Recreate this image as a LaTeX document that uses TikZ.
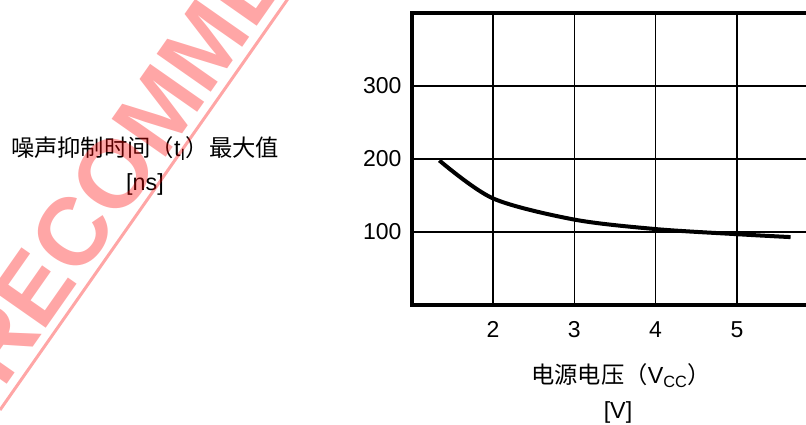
\documentclass[tikz,border=0pt]{standalone}
\usepackage{fontspec}
\setmainfont{Liberation Sans}
\newfontfamily\cjk{Noto Sans CJK SC}
\usetikzlibrary{positioning}

\tikzset{
    frameline/.style={line width=3.8pt},
    gridline/.style={line width=1.6pt},
    curveline/.style={line width=4pt},
    ticklabel/.style={inner sep=0pt, font=\fontsize{23}{28}\selectfont},
    axislabel/.style={inner sep=0pt, anchor=base, font=\fontsize{23.3}{28}\selectfont},
    watermark/.style={red, opacity=0.35},
}

\begin{document}
\begin{tikzpicture}[x=1pt, y=1pt]
    \useasboundingbox (0,0) rectangle (806,425);
    \clip (0,0) rectangle (806,425);
    % plot area, V on x and ns on y
    \begin{scope}[shift={(330.4,120)}, x=81.3pt, y=0.73pt]
        \draw[gridline] (2,0) -- (2,400);
        \draw[gridline] (3,0) -- (3,400);
        \draw[gridline] (4,0) -- (4,400);
        \draw[gridline] (5,0) -- (5,400);
        \draw[gridline] (1,100) -- (6.5,100);
        \draw[gridline] (1,200) -- (6.5,200);
        \draw[gridline] (1,300) -- (6.5,300);
        \draw[frameline] (6.5,400) -- (1,400) -- (1,0) -- (6.5,0);
        \draw[curveline] plot[smooth] coordinates
            {(1.34,198) (2,146) (3,117) (4,104) (5,97) (5.66,93)};
        \node[ticklabel, left=10pt] (t100) at (1,100) {100};
        \node[ticklabel, left=10pt] (t200) at (1,200) {200};
        \node[ticklabel, left=10pt] (t300) at (1,300) {300};
        \node[ticklabel, below=16pt] (t2) at (2,0) {2};
        \node[ticklabel, below=16pt] (t3) at (3,0) {3};
        \node[ticklabel, below=16pt] (t4) at (4,0) {4};
        \node[ticklabel, below=16pt] (t5) at (5,0) {5};
    \end{scope}
    % axis titles
    \node[axislabel] (ylabel) at (145,268)
        {{\cjk 噪声抑制时间（}t\textsubscript{I}{\cjk ）最大值}};
    \node[axislabel] (yunit) at (145,234) {[ns]};
    \node[axislabel] (xlabel) at (621,41)
        {{\cjk 电源电压（}V\textsubscript{CC}{\cjk ）}};
    \node[axislabel] (xunit) at (618,6) {[V]};
    % stamp over everything
    \draw[watermark, line width=3pt] (0,15) -- ++(55:520);
    \node[watermark, rotate=55, anchor=base west, inner sep=0pt,
        font=\bfseries\fontsize{96}{96}\selectfont] (stamp) at (2.9,34.9) {RECOMMENDED};
\end{tikzpicture}
\end{document}
